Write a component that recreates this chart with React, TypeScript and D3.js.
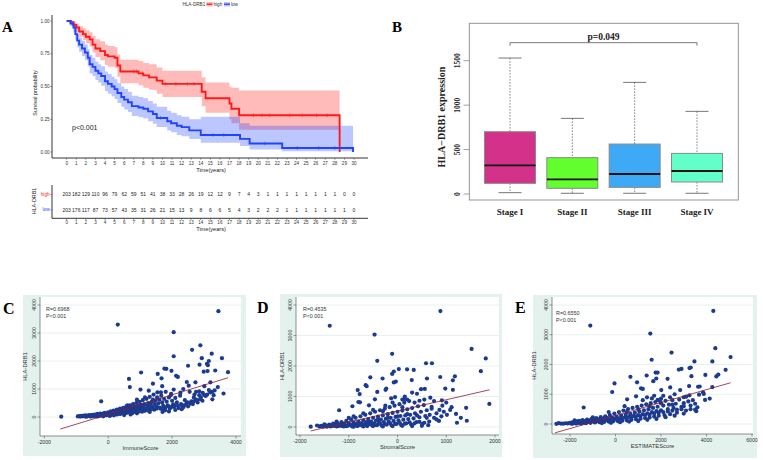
import * as d3 from "d3";

const SANS = "'Liberation Sans', Arial, sans-serif";
const SERIF = "'Liberation Serif', 'Times New Roman', serif";

// ---------- Panel A: survival ----------
const highTimes = [0, 0.4, 0.7, 1.0, 1.3, 1.7, 2.0, 2.4, 2.7, 3.0, 3.5, 4.0, 4.3, 5.0, 5.3, 5.6, 7.5, 8.0, 8.6, 9.4, 10.0, 14.1, 14.5, 17.0, 17.2, 18.0, 28.5];
const highSurv = [1, 0.99, 0.97, 0.95, 0.92, 0.9, 0.88, 0.86, 0.82, 0.79, 0.77, 0.74, 0.73, 0.72, 0.66, 0.615, 0.6, 0.585, 0.57, 0.545, 0.52, 0.46, 0.41, 0.37, 0.33, 0.28, 0];
const highUpper = [1, 1, 0.995, 0.98, 0.96, 0.945, 0.93, 0.915, 0.885, 0.86, 0.845, 0.82, 0.81, 0.8, 0.745, 0.705, 0.695, 0.68, 0.67, 0.645, 0.62, 0.57, 0.53, 0.5, 0.49, 0.47, 0.47];
const highLower = [1, 0.975, 0.945, 0.915, 0.88, 0.855, 0.83, 0.805, 0.76, 0.725, 0.7, 0.665, 0.65, 0.64, 0.575, 0.525, 0.51, 0.49, 0.475, 0.445, 0.42, 0.35, 0.3, 0.25, 0.22, 0.17, 0.17];
const highCensor = [7.0, 7.3, 7.9, 10.3, 11.4, 12.6, 13.3, 19.5, 20.4, 21.2, 23.3, 24.6, 26.1, 27.2];

const lowTimes = [0, 0.4, 0.7, 0.9, 1.1, 1.3, 1.6, 1.9, 2.2, 2.4, 2.7, 3.0, 3.3, 3.6, 4.0, 4.3, 4.7, 5.0, 5.3, 5.7, 6.0, 6.4, 6.8, 7.5, 8.0, 8.5, 9.0, 9.4, 10.5, 10.9, 11.5, 12.0, 12.8, 14.0, 18.1, 19.1, 22.5, 29.9];
const lowSurv = [1, 0.98, 0.95, 0.9, 0.85, 0.82, 0.79, 0.76, 0.72, 0.67, 0.65, 0.62, 0.6, 0.58, 0.54, 0.52, 0.5, 0.48, 0.45, 0.42, 0.4, 0.38, 0.35, 0.34, 0.33, 0.31, 0.29, 0.26, 0.235, 0.22, 0.2, 0.19, 0.165, 0.13, 0.1, 0.065, 0.03, 0];
const lowUpper = [1, 1, 0.985, 0.945, 0.9, 0.875, 0.85, 0.82, 0.785, 0.74, 0.72, 0.69, 0.67, 0.655, 0.615, 0.595, 0.575, 0.555, 0.525, 0.5, 0.48, 0.46, 0.43, 0.42, 0.41, 0.39, 0.37, 0.345, 0.315, 0.3, 0.28, 0.27, 0.25, 0.27, 0.22, 0.2, 0.2, 0.2];
const lowLower = [1, 0.96, 0.915, 0.855, 0.8, 0.765, 0.73, 0.7, 0.655, 0.6, 0.58, 0.55, 0.53, 0.505, 0.465, 0.445, 0.425, 0.405, 0.375, 0.345, 0.325, 0.305, 0.275, 0.265, 0.255, 0.235, 0.215, 0.19, 0.165, 0.15, 0.13, 0.12, 0.1, 0.07, 0.045, 0.02, 0.005, 0];
const lowCensor = [9.8, 15.3, 16.4, 20.7, 24.1, 26.3, 28.0];

const survTicks = [0, 0.25, 0.5, 0.75, 1];
const yearTicks = [0, 1, 2, 3, 4, 5, 6, 7, 8, 9, 10, 11, 12, 13, 14, 15, 16, 17, 18, 19, 20, 21, 22, 23, 24, 25, 26, 27, 28, 29, 30];
const riskHigh = [203, 182, 129, 110, 96, 79, 62, 59, 51, 41, 38, 33, 28, 26, 19, 12, 12, 9, 7, 4, 3, 1, 1, 1, 1, 1, 1, 1, 1, 0, 0];
const riskLow = [203, 176, 117, 87, 73, 57, 43, 35, 31, 26, 21, 15, 13, 9, 8, 6, 6, 5, 4, 3, 2, 2, 2, 1, 1, 1, 1, 1, 1, 1, 0];

// ---------- Panel B: boxplot ----------
const stages = ["Stage I", "Stage II", "Stage III", "Stage IV"];
const whiskerLow = [15, 8, 8, 8];
const q1 = [120, 64, 75, 135];
const medians = [322, 165, 225, 259];
const q3 = [701, 409, 562, 457];
const whiskerHigh = [1530, 851, 1256, 930];
const stageColors = ["#d4318a", "#62fe2e", "#3eaaf6", "#62ffc8"];
const exprTicks = [0, 500, 1000, 1500];

// ---------- Panels C-E: scatter ----------
const hlaTicks = [0, 1000, 2000, 3000, 4000];

const immunePoints: [number, number][] = [
  [3450, 3780], [300, 3300], [2050, 3030], [2885, 2560], [2625, 2400], [3240, 2260], [2050, 2170], [2930, 2100], [3560, 2100], [3150, 2000],
  [3090, 1900], [3120, 1850], [2500, 1830], [2860, 1870], [1760, 1730], [1820, 1720], [1980, 1650], [2990, 1620], [1550, 1540], [3110, 1640],
  [3350, 1660], [3750, 1600], [1030, 1590], [2125, 1470], [2180, 1430], [1670, 1380], [650, 1360], [2460, 1250], [2730, 1240], [3200, 1240],
  [677, 1070], [1400, 1190], [1690, 1100], [2520, 1120], [3430, 1070], [3330, 950], [3610, 840], [3260, 630], [1010, 980], [1270, 940],
  [2850, 920], [3010, 1100], [2850, 780], [-220, 560], [1970, 830], [2260, 870], [2680, 700], [1530, 700], [2960, 860], [3000, 790],
  [-1470, 10], [-950, 20], [-900, 30], [-870, 15], [-830, 40], [-800, 25], [-760, 50], [-720, 30], [-700, 60], [-660, 20],
  [-630, 45], [-600, 70], [-570, 35], [-540, 55], [-500, 80], [-480, 30], [-450, 60], [-420, 90], [-400, 40], [-370, 70],
  [-340, 110], [-310, 50], [-280, 80], [-250, 120], [-230, 60], [-200, 95], [-170, 40], [-150, 130], [-120, 75], [-100, 150],
  [-80, 100], [-50, 60], [-20, 120], [0, 170], [20, 90], [40, 140], [60, 60], [80, 200], [100, 110], [130, 160],
  [150, 80], [170, 230], [200, 130], [220, 180], [250, 100], [270, 260], [300, 150], [320, 210], [350, 120], [370, 300],
  [400, 180], [420, 240], [450, 140], [470, 330], [500, 200], [520, 280], [550, 160], [570, 380], [600, 230], [620, 300],
  [650, 180], [680, 420], [700, 260], [720, 340], [750, 200], [780, 460], [800, 290], [830, 370], [850, 220], [880, 500],
  [900, 310], [930, 400], [950, 250], [980, 540], [1000, 340], [1030, 430], [1060, 280], [1080, 600], [1100, 370], [1130, 460],
  [1160, 300], [1200, 650], [1220, 400], [1250, 500], [1280, 320], [1300, 720], [1330, 430], [1360, 540], [1390, 350], [1420, 800],
  [1450, 460], [1480, 580], [1510, 380], [1540, 880], [1570, 490], [1600, 620], [1630, 300], [1660, 760], [1690, 520], [1720, 400],
  [1750, 650], [1780, 240], [1800, 900], [1830, 550], [1860, 420], [1900, 700], [1930, 300], [1960, 780], [2000, 580], [2030, 450],
  [2060, 360], [2100, 680], [2150, 520], [2200, 320], [2250, 760], [2300, 420], [2350, 350], [2400, 600], [2450, 480], [2500, 380],
  [2550, 900], [2600, 560], [2650, 460], [2700, 800], [2750, 620], [2800, 520], [2900, 700], [2950, 580], [3050, 750], [3100, 800],
  [3200, 880], [3300, 780], [1150, 220], [900, 130], [700, 90], [500, 70], [1300, 180], [1700, 180], [1900, 200], [2100, 250], [2300, 280],
  [50, 40], [180, 60], [280, 90], [380, 110], [480, 130], [580, 150], [680, 170], [760, 140], [860, 180], [960, 200],
  [1060, 190], [1180, 260], [1260, 230], [1350, 280], [1440, 260], [1520, 300], [1610, 340], [1700, 290], [1790, 340], [1880, 380],
  [1980, 360], [2080, 420], [2180, 400], [2280, 460], [2380, 420], [2480, 520], [2580, 480], [2680, 560], [2780, 600], [2880, 640],
  [-300, 30], [-700, 10], [-550, 15], [-350, 20], [-150, 25], [600, 420], [900, 620], [1150, 700], [1400, 620], [1650, 880],
  [2050, 980], [2350, 1000], [2750, 900], [3150, 960], [3250, 900],
];

const stromalPoints: [number, number][] = [
  [880, 3800], [-1390, 3320], [-470, 3030], [1520, 2560], [-110, 2400], [-415, 2170], [1810, 2250], [1710, 1830], [585, 2090], [707, 2090],
  [197, 1890], [333, 1870], [27, 1900], [-75, 1820], [-109, 1740], [-558, 1630], [-306, 1590], [605, 1590], [877, 1640], [1177, 1660],
  [1136, 1530], [292, 1540], [-75, 1460], [-34, 1490], [-653, 1370], [-633, 1340], [-816, 1210], [-776, 1080], [-415, 1150], [-245, 1220],
  [-230, 1260], [483, 1240], [560, 1250], [980, 1260], [1136, 1220], [1408, 630], [1422, 205], [1884, 755], [-1197, 550], [-925, 680],
  [-803, 820], [-770, 810], [-585, 710], [-463, 906], [143, 916], [100, 900], [673, 960], [911, 873], [1014, 400], [1200, 430],
  [1220, 140], [1080, 560], [1110, 650], [860, 560], [920, 700], [700, 660], [400, 1090], [300, 1130], [150, 1000], [-130, 940], [-50, 980],
  [-1780, 10], [-1600, 20], [-1560, 40], [-1520, 15], [-1480, 60], [-1450, 30], [-1400, 80], [-1380, 20], [-1350, 50], [-1320, 110],
  [-1300, 35], [-1270, 70], [-1240, 140], [-1220, 25], [-1200, 90], [-1170, 50], [-1150, 160], [-1120, 30], [-1100, 110], [-1070, 60],
  [-1050, 200], [-1020, 40], [-1000, 130], [-980, 80], [-950, 250], [-930, 20], [-900, 150], [-880, 60], [-860, 300], [-840, 100],
  [-820, 30], [-800, 180], [-780, 70], [-760, 350], [-740, 120], [-720, 40], [-700, 220], [-680, 90], [-660, 400], [-640, 150],
  [-620, 30], [-600, 260], [-580, 100], [-560, 450], [-540, 180], [-520, 50], [-500, 300], [-480, 120], [-460, 500], [-440, 210],
  [-420, 60], [-400, 340], [-380, 140], [-360, 550], [-340, 240], [-320, 40], [-300, 380], [-280, 160], [-260, 600], [-240, 270],
  [-220, 80], [-200, 420], [-180, 180], [-160, 650], [-140, 300], [-120, 50], [-100, 460], [-80, 200], [-60, 700], [-40, 330],
  [-20, 100], [0, 500], [20, 220], [40, 750], [60, 360], [80, 60], [100, 540], [120, 240], [140, 800], [160, 380],
  [180, 120], [200, 580], [220, 260], [240, 850], [260, 400], [280, 80], [300, 620], [330, 280], [360, 450], [390, 160],
  [420, 680], [450, 320], [480, 500], [510, 100], [540, 720], [570, 360], [600, 550], [630, 60], [660, 400], [700, 600],
  [750, 300], [800, 450], [850, 200], [900, 350], [950, 500], [-1650, 50], [-1500, 90], [-1250, 180], [-1000, 300], [-700, 450],
  [-500, 560], [-300, 520], [-100, 800], [200, 900], [450, 860], [-900, 350],
  [-1450, 10], [-1350, 30], [-1250, 20], [-1150, 40], [-1050, 30], [-950, 60], [-850, 50], [-750, 80], [-650, 60], [-550, 90],
  [-450, 70], [-350, 100], [-250, 90], [-150, 120], [-50, 100], [50, 130], [150, 110], [250, 150], [350, 120], [450, 170],
  [550, 140], [650, 180], [-1100, 20], [-900, 10], [-700, 20], [-500, 30], [-300, 20], [-100, 30], [100, 40], [300, 30],
  [500, 40], [-600, 200], [-400, 250], [-200, 300], [0, 350], [200, 420], [400, 380], [600, 300], [800, 250], [-250, 700],
  [100, 650], [350, 800], [550, 900], [750, 850], [1000, 800], [1300, 300],
];

const estimatePoints: [number, number][] = [
  [4300, 3800], [-1108, 3310], [1530, 3040], [2464, 2400], [4388, 2550], [1589, 2160], [3469, 2105], [5058, 2250], [4257, 2105], [4840, 1820],
  [3950, 1650], [3309, 1900], [3250, 1880], [2784, 1830], [2900, 1850], [1764, 1730], [1850, 1730], [1793, 1530], [2289, 1520], [1370, 1630],
  [656, 1585], [3338, 1606], [4431, 1600], [4519, 1660], [948, 1400], [1662, 1440], [-44, 1363], [1122, 1200], [1200, 1180], [2012, 1140],
  [2405, 1230], [2843, 1140], [3236, 1274], [3630, 1252], [3700, 1260], [4257, 1241], [-146, 1075], [904, 931], [510, 831], [1385, 897],
  [1600, 860], [1851, 809], [3105, 920], [3250, 964], [3673, 986], [3936, 809], [4140, 853], [-1399, 554], [3500, 480], [3550, 430],
  [3848, 1064], [3880, 1010], [2600, 1000], [2100, 950], [3000, 900],
  [-2600, 5], [-2400, 15], [-2300, 10], [-2200, 25], [-2100, 20], [-2000, 40], [-1950, 15], [-1900, 55], [-1850, 30], [-1800, 70],
  [-1750, 20], [-1700, 90], [-1650, 40], [-1600, 110], [-1550, 30], [-1500, 80], [-1450, 130], [-1400, 50], [-1350, 100], [-1300, 25],
  [-1250, 150], [-1200, 70], [-1150, 120], [-1100, 40], [-1050, 170], [-1000, 90], [-950, 140], [-900, 50], [-850, 200], [-800, 100],
  [-750, 160], [-700, 60], [-650, 230], [-600, 120], [-550, 180], [-500, 70], [-450, 260], [-400, 130], [-350, 200], [-300, 80],
  [-250, 300], [-200, 150], [-150, 220], [-100, 90], [-50, 350], [0, 170], [50, 250], [100, 100], [150, 400], [200, 190],
  [250, 280], [300, 110], [350, 450], [400, 210], [450, 310], [500, 120], [550, 500], [600, 240], [650, 340], [700, 140],
  [750, 540], [800, 270], [850, 380], [900, 160], [950, 580], [1000, 300], [1050, 420], [1100, 180], [1150, 620], [1200, 330],
  [1250, 460], [1300, 200], [1350, 660], [1400, 360], [1450, 500], [1500, 220], [1550, 700], [1600, 400], [1650, 540], [1700, 250],
  [1750, 740], [1800, 430], [1850, 580], [1900, 280], [1950, 770], [2000, 460], [2100, 620], [2150, 300], [2200, 780], [2300, 500],
  [2350, 650], [2400, 330], [2500, 800], [2550, 540], [2650, 680], [2700, 380], [2800, 820], [2900, 580], [3000, 700], [3100, 450],
  [3200, 760], [3300, 620], [3400, 800], [3500, 680], [-2500, 30], [-1800, 120], [-1000, 220], [-300, 400], [400, 600], [1200, 800], [2000, 850],
  [-1900, 10], [-1700, 20], [-1500, 20], [-1300, 40], [-1100, 60], [-900, 70], [-700, 90], [-500, 110], [-300, 130], [-100, 150],
  [100, 170], [300, 190], [500, 210], [700, 230], [900, 250], [1100, 270], [1300, 300], [1500, 320], [1700, 350], [1900, 380],
  [2100, 400], [2300, 420], [2500, 450], [2700, 480], [2900, 500], [-600, 30], [-200, 40], [200, 60], [600, 80], [1000, 100],
  [1400, 140], [1800, 170], [2200, 230], [2600, 280], [3000, 350], [500, 400], [1000, 500], [1500, 600], [2000, 700], [2500, 650],
  [3000, 600], [3300, 500], [3600, 560], [2400, 900], [1700, 950],
];

// fitted lines: [x start, x end, intercept, slope]
const immuneFit = [-1500, 3750, 93, 0.349];
const stromalFit = [-1780, 1890, 525, 0.368];
const estimateFit = [-2660, 5060, 283, 0.218];

type ScatterCfg = {
  letter: string; letterX: number; letterY: number;
  bg: number[]; plot: number[];
  xDomain: number[]; xRange: number[]; yRange: number[];
  xTicks: number[]; xTitle: string; stats: string[]; statX: number; statY: number;
  yTitleX: number; fit: number[]; points: [number, number][];
};

const scatterPanels: ScatterCfg[] = [
  { letter: "C", letterX: 3, letterY: 314, bg: [23, 295, 246, 456], plot: [40, 241, 297, 436],
    xDomain: [-2000, 4000], xRange: [44.3, 236], yRange: [417, 305], xTicks: [-2000, 0, 2000, 4000],
    xTitle: "ImmuneScore", stats: ["R=0.6968", "P<0.001"], statX: 46, statY: 311, yTitleX: 27, fit: immuneFit, points: immunePoints },
  { letter: "D", letterX: 257, letterY: 313, bg: [280, 294, 502, 457], plot: [296, 499, 297, 435],
    xDomain: [-2000, 2000], xRange: [300, 495], yRange: [427, 305], xTicks: [-2000, -1000, 0, 1000, 2000],
    xTitle: "StromalScore", stats: ["R=0.4535", "P<0.001"], statX: 303, statY: 311, yTitleX: 284, fit: stromalFit, points: stromalPoints },
  { letter: "E", letterX: 515, letterY: 313, bg: [533, 295, 757, 458], plot: [552, 753, 297, 434],
    xDomain: [-2000, 6000], xRange: [570, 752], yRange: [424, 305], xTicks: [-2000, 0, 2000, 4000, 6000],
    xTitle: "ESTIMATEScore", stats: ["R=0.6550", "P<0.001"], statX: 556, statY: 315, yTitleX: 536, fit: estimateFit, points: estimatePoints },
];

function stepValue(times: number[], vals: number[], t: number) {
  const i = d3.bisectRight(times, t) - 1;
  return vals[Math.max(0, i)];
}

function SurvivalPanel() {
  const x = d3.scaleLinear().domain([0, 30]).range([66.7, 354]);
  const y = d3.scaleLinear().domain([0, 1]).range([152, 21]);
  const yr = d3.scalePoint<string>().domain(["high", "low"]).range([194.5, 209.8]);
  const line = (t: number[], s: number[]) =>
    d3.line<number>().x((i) => x(t[i])).y((i) => y(s[i])).curve(d3.curveStepAfter)(d3.range(t.length)) || "";
  const band = (t: number[], lo: number[], up: number[]) =>
    d3.area<number>().x((i) => x(t[i])).y0((i) => y(lo[i])).y1((i) => y(up[i])).curve(d3.curveStepAfter)(d3.range(t.length)) || "";
  const groups = [
    { key: "high", color: "#ff1a1a", t: highTimes, s: highSurv, lo: highLower, up: highUpper, c: highCensor },
    { key: "low", color: "#2244ff", t: lowTimes, s: lowSurv, lo: lowLower, up: lowUpper, c: lowCensor },
  ];
  return (
    <g fontFamily={SANS}>
      <text x={2} y={32} fontFamily={SERIF} fontWeight="bold" fontSize={15}>A</text>
      {/* legend */}
      <text x={182.5} y={5.8} fontSize={4.6} fill="#333">HLA-DRB1</text>
      <rect x={206.5} y={2} width={6} height={4.5} fill="#ff1a1a" fillOpacity={0.3} />
      <line x1={206.5} x2={212.5} y1={4.2} y2={4.2} stroke="#ff1a1a" strokeWidth={1.3} />
      <text x={213.5} y={5.8} fontSize={4.6} fill="#333">high</text>
      <rect x={224} y={2} width={6} height={4.5} fill="#2244ff" fillOpacity={0.3} />
      <line x1={224} x2={230} y1={4.2} y2={4.2} stroke="#2244ff" strokeWidth={1.3} />
      <text x={231} y={5.8} fontSize={4.6} fill="#333">low</text>

      {groups.map((g) => (
        <path key={g.key + "b"} d={band(g.t, g.lo, g.up)} fill={g.color} fillOpacity={0.3} stroke="none" />
      ))}
      {groups.map((g) => (
        <g key={g.key}>
          <path d={line(g.t, g.s)} fill="none" stroke={g.color} strokeWidth={1.9} />
          {g.c.map((t) => (
            <line key={t} x1={x(t)} x2={x(t)} y1={y(stepValue(g.t, g.s, t)) - 1.8} y2={y(stepValue(g.t, g.s, t)) + 1.8}
              stroke={g.color} strokeWidth={0.6} />
          ))}
        </g>
      ))}
      {/* axes */}
      <line x1={52} x2={52} y1={15} y2={158} stroke="#000" strokeWidth={0.8} />
      <line x1={52} x2={368} y1={158} y2={158} stroke="#000" strokeWidth={0.8} />
      {survTicks.map((v) => (
        <g key={v}>
          <line x1={50.3} x2={52} y1={y(v)} y2={y(v)} stroke="#333" strokeWidth={0.5} />
          <text x={49.5} y={y(v) + 1.6} fontSize={4.6} textAnchor="end" fill="#333">{v.toFixed(2)}</text>
        </g>
      ))}
      {yearTicks.map((v) => (
        <g key={v}>
          <line x1={x(v)} x2={x(v)} y1={158} y2={159.7} stroke="#333" strokeWidth={0.5} />
          <text x={x(v)} y={164.8} fontSize={4.6} textAnchor="middle" fill="#333">{v}</text>
        </g>
      ))}
      <text x={211} y={171.5} fontSize={5.6} textAnchor="middle" fill="#222">Time(years)</text>
      <text transform="translate(36.5,93) rotate(-90)" fontSize={5.4} textAnchor="middle" fill="#222">Survival probability</text>
      <text x={72} y={129.5} fontSize={7} fill="#222">p&lt;0.001</text>

      {/* risk table */}
      <line x1={52} x2={52} y1={185} y2={218.3} stroke="#000" strokeWidth={0.8} />
      <line x1={52} x2={368} y1={218.3} y2={218.3} stroke="#000" strokeWidth={0.8} />
      {groups.map((g) => (
        <g key={g.key + "r"}>
          <line x1={50.3} x2={52} y1={yr(g.key)} y2={yr(g.key)} stroke={g.color} strokeWidth={0.6} />
          <text x={49.5} y={(yr(g.key) || 0) + 1.6} fontSize={4.6} textAnchor="end" fill={g.color}>{g.key}</text>
          {(g.key === "high" ? riskHigh : riskLow).map((n, i) => (
            <text key={i} x={x(yearTicks[i])} y={(yr(g.key) || 0) + 1.8} fontSize={5} textAnchor="middle" fill="#222">{n}</text>
          ))}
        </g>
      ))}
      <text transform="translate(36,201) rotate(-90)" fontSize={5.4} textAnchor="middle" fill="#222">HLA-DRB1</text>
      {yearTicks.map((v) => (
        <g key={v}>
          <line x1={x(v)} x2={x(v)} y1={218.3} y2={220} stroke="#333" strokeWidth={0.5} />
          <text x={x(v)} y={224.3} fontSize={4.6} textAnchor="middle" fill="#333">{v}</text>
        </g>
      ))}
      <text x={211} y={231} fontSize={5.6} textAnchor="middle" fill="#222">Time(years)</text>
    </g>
  );
}

function BoxPanel() {
  const x = d3.scalePoint<string>().domain(stages).range([510, 697]);
  const y = d3.scaleLinear().domain([0, 1500]).range([194, 60.7]);
  const bw = 51;
  const cap = 23;
  return (
    <g fontFamily={SERIF} fontWeight="bold">
      <text x={392} y={32} fontSize={15}>B</text>
      <rect x={469.3} y={23.3} width={269} height={176.7} fill="none" stroke="#8a8a8a" strokeWidth={0.9} />
      {exprTicks.map((v) => (
        <g key={v}>
          <line x1={463.5} x2={469.3} y1={y(v)} y2={y(v)} stroke="#8a8a8a" strokeWidth={0.8} />
          <text transform={`translate(460,${y(v)}) rotate(-90)`} fontSize={7.5} textAnchor="middle" fill="#222">{v}</text>
        </g>
      ))}
      <text transform="translate(444.5,117) rotate(-90)" fontSize={10} textAnchor="middle" fill="#222">HLA−DRB1 expression</text>
      {stages.map((s, i) => {
        const cx = x(s) || 0;
        return (
          <g key={s}>
            <line x1={cx} x2={cx} y1={y(whiskerHigh[i])} y2={y(q3[i])} stroke="#555" strokeWidth={0.7} strokeDasharray="1.6,1.4" />
            <line x1={cx} x2={cx} y1={y(q1[i])} y2={y(whiskerLow[i])} stroke="#555" strokeWidth={0.7} strokeDasharray="1.6,1.4" />
            <line x1={cx - cap / 2} x2={cx + cap / 2} y1={y(whiskerHigh[i])} y2={y(whiskerHigh[i])} stroke="#555" strokeWidth={0.8} />
            <line x1={cx - cap / 2} x2={cx + cap / 2} y1={y(whiskerLow[i])} y2={y(whiskerLow[i])} stroke="#555" strokeWidth={0.8} />
            <rect x={cx - bw / 2} y={y(q3[i])} width={bw} height={y(q1[i]) - y(q3[i])} fill={stageColors[i]} stroke="#8a8a8a" strokeWidth={1} />
            <line x1={cx - bw / 2} x2={cx + bw / 2} y1={y(medians[i])} y2={y(medians[i])} stroke="#111" strokeWidth={1.8} />
            <text x={cx} y={215} fontSize={9} textAnchor="middle" fill="#222">{s}</text>
          </g>
        );
      })}
      <path d={`M${x(stages[0])},45.7V42.7H${x(stages[3])}V45.7`} fill="none" stroke="#555" strokeWidth={0.8} />
      <text x={603.5} y={39.5} fontSize={9.5} textAnchor="middle" fill="#222">p=0.049</text>
    </g>
  );
}

function ScatterPanel({ cfg }: { cfg: ScatterCfg }) {
  const x = d3.scaleLinear().domain(cfg.xDomain).range(cfg.xRange);
  const y = d3.scaleLinear().domain([0, 4000]).range(cfg.yRange);
  const [bx0, by0, bx1, by1] = cfg.bg;
  const [pl, pr, pt, pb] = cfg.plot;
  const [fx0, fx1, b0, b1] = cfg.fit;
  const fitLine = d3.line<number>().x((v) => x(v)).y((v) => y(b0 + b1 * v))([fx0, fx1]) || "";
  return (
    <g fontFamily={SANS}>
      <rect x={bx0} y={by0} width={bx1 - bx0} height={by1 - by0} fill="#e4f2ed" />
      <rect x={pl} y={pt} width={pr - pl} height={pb - pt} fill="#fff" />
      {hlaTicks.map((v) => (
        <line key={v} x1={pl} x2={pr} y1={y(v)} y2={y(v)} stroke="#e1efea" strokeWidth={0.8} />
      ))}
      <line x1={pl} x2={pl} y1={pt} y2={pb} stroke="#444" strokeWidth={0.6} />
      <line x1={pl} x2={pr} y1={pb} y2={pb} stroke="#444" strokeWidth={0.6} />
      {hlaTicks.map((v) => (
        <g key={v}>
          <line x1={pl - 2.5} x2={pl} y1={y(v)} y2={y(v)} stroke="#444" strokeWidth={0.5} />
          <text transform={`translate(${pl - 4.5},${y(v)}) rotate(-90)`} fontSize={5.2} textAnchor="middle" fill="#333">{v}</text>
        </g>
      ))}
      {cfg.xTicks.map((v) => (
        <g key={v}>
          <line x1={x(v)} x2={x(v)} y1={pb} y2={pb + 2.5} stroke="#444" strokeWidth={0.5} />
          <text x={x(v)} y={pb + 8} fontSize={5.2} textAnchor="middle" fill="#333">{v}</text>
        </g>
      ))}
      <text x={(pl + pr) / 2} y={pb + 14} fontSize={5.8} textAnchor="middle" fill="#333">{cfg.xTitle}</text>
      <text transform={`translate(${cfg.yTitleX},${(pt + pb) / 2}) rotate(-90)`} fontSize={5.8} textAnchor="middle" fill="#333">HLA-DRB1</text>
      {cfg.points.map((p, i) => (
        <circle key={i} cx={x(p[0])} cy={y(p[1])} r={2.1} fill="#1c3a8f" />
      ))}
      <path d={fitLine} stroke="#8b1a2e" strokeWidth={0.8} fill="none" />
      <text x={cfg.statX} y={cfg.statY} fontSize={5.4} fill="#333">{cfg.stats[0]}</text>
      <text x={cfg.statX} y={cfg.statY + 6.5} fontSize={5.4} fill="#333">{cfg.stats[1]}</text>
      <text x={cfg.letterX} y={cfg.letterY} fontFamily={SERIF} fontWeight="bold" fontSize={16}>{cfg.letter}</text>
    </g>
  );
}

export default function App() {
  return (
    <svg width={763} height={460} viewBox="0 0 763 460"
      style={{ position: "absolute", left: 0, top: 0, background: "#fff" }}>
      <rect width={763} height={460} fill="#fff" />
      <SurvivalPanel />
      <BoxPanel />
      {scatterPanels.map((c) => (
        <ScatterPanel key={c.letter} cfg={c} />
      ))}
    </svg>
  );
}
